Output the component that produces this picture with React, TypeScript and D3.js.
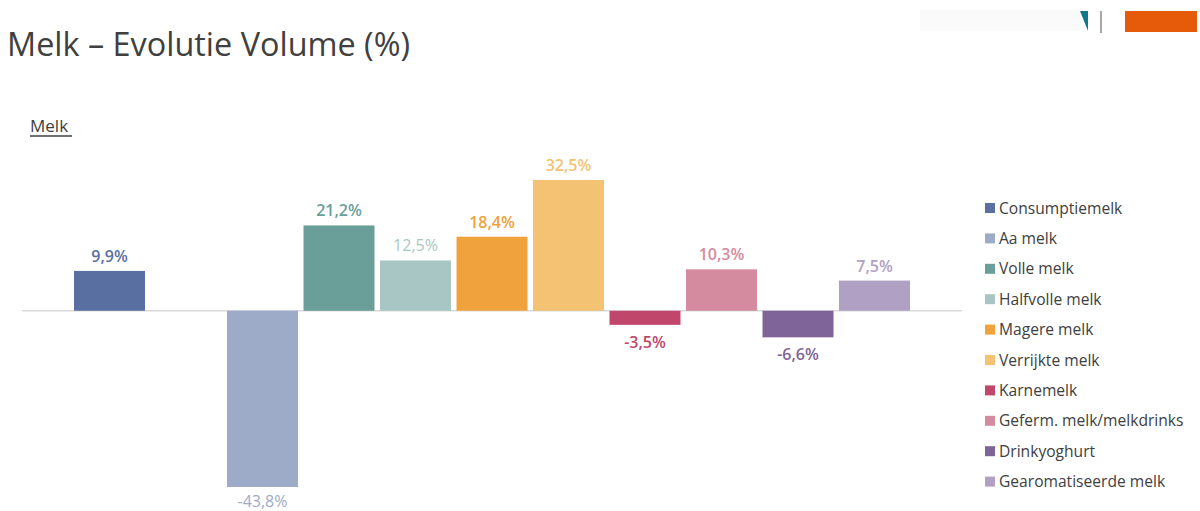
import React from "react";
import * as d3 from "d3";

const categories = [
  "Consumptiemelk",
  "Aa melk",
  "Volle melk",
  "Halfvolle melk",
  "Magere melk",
  "Verrijkte melk",
  "Karnemelk",
  "Geferm. melk/melkdrinks",
  "Drinkyoghurt",
  "Gearomatiseerde melk",
];
const values = [9.9, -43.8, 21.2, 12.5, 18.4, 32.5, -3.5, 10.3, -6.6, 7.5];
// slot positions on the category axis (slot 1 is empty in the original)
const slots = [0, 2, 3, 4, 5, 6, 7, 8, 9, 10];
const colors = [
  "#5a6fa1",
  "#9eabc8",
  "#6a9f99",
  "#a8c7c4",
  "#f0a23d",
  "#f4c273",
  "#c0466b",
  "#d48a9f",
  "#7e6499",
  "#b0a1c4",
];
const boldLabels = [true, false, true, false, true, true, true, true, true, true];

const W = 1200;
const H = 511;
const FONT = "'Open Sans', 'Noto Sans', sans-serif";

export default function App() {
  const x = d3
    .scaleBand<number>()
    .domain(d3.range(11))
    .range([74, 910])
    .paddingInner(0.072)
    .paddingOuter(0);
  const y = d3.scaleLinear().domain([-43.8, 32.5]).range([487, 180]);
  const y0 = y(0);
  const fmt = (v: number) => v.toFixed(1).replace(".", ",") + "%";

  return (
    <svg
      width={W}
      height={H}
      style={{ position: "absolute", left: 0, top: 0, background: "#fff" }}
    >
      {/* logo fragments */}
      <rect x={920} y={10} width={160} height={21} fill="#fafafa" />
      <path d="M1080,11 L1088,11 L1088,31 Z" fill="#14788c" />
      <line x1={1101} x2={1101} y1={11} y2={33} stroke="#8a8a8a" strokeWidth={1.5} />
      <rect x={1125} y={11} width={72} height={21} fill="#e55b0a" />

      <text x={7} y={56} fontFamily={FONT} fontSize={32} fill="#404040" textLength={403} lengthAdjust="spacingAndGlyphs">
        Melk – Evolutie Volume (%)
      </text>
      <text x={30} y={132} fontFamily={FONT} fontSize={17} fill="#404040">
        Melk
      </text>
      <line x1={30} x2={72} y1={136} y2={136} stroke="#404040" strokeWidth={1.3} />

      <line x1={22} x2={962} y1={y0} y2={y0} stroke="#d9d9d9" strokeWidth={1.5} />

      {values.map((v, i) => {
        const bx = x(slots[i])!;
        const bw = x.bandwidth();
        const top = Math.min(y(v), y0);
        const h = Math.abs(y(v) - y0);
        const cx = bx + bw / 2;
        const ly = Math.min(v >= 0 ? y(v) - 9 : y(v) + 23, H - 4);
        return (
          <g key={categories[i]}>
            <rect x={bx} y={top} width={bw} height={h} fill={colors[i]} />
            <text
              x={cx}
              y={ly}
              textAnchor="middle"
              fontFamily={FONT}
              fontSize={16}
              fontWeight={boldLabels[i] ? 600 : 400}
              fill={colors[i]}
            >
              {fmt(v)}
            </text>
          </g>
        );
      })}

      {categories.map((c, i) => {
        const ly = 208 + i * 30.4;
        return (
          <g key={"lg" + c}>
            <rect x={985} y={ly - 5} width={10} height={10} fill={colors[i]} />
            <text
              x={999}
              y={ly + 5.5}
              fontFamily={FONT}
              fontSize={15.6}
              fill="#404040"
            >
              {c}
            </text>
          </g>
        );
      })}
    </svg>
  );
}
